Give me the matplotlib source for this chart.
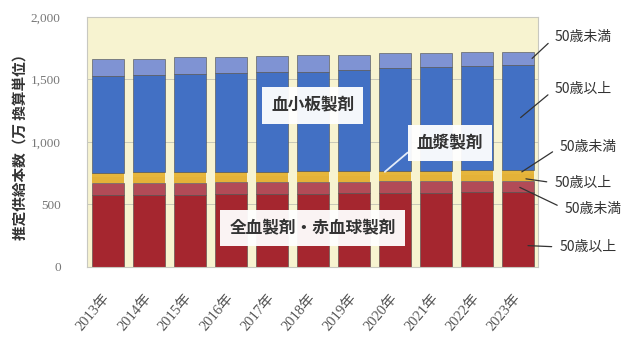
import numpy as np
import matplotlib.pyplot as plt

plt.rcParams['font.family'] = ['Noto Sans CJK JP', 'DejaVu Sans']

years = ['2013年', '2014年', '2015年', '2016年', '2017年', '2018年',
         '2019年', '2020年', '2021年', '2022年', '2023年']

# 推定供給本数（万 換算単位）, stacked from the bottom
rbc_over50 = [573, 575, 577, 579, 582, 585, 588, 590, 593, 596, 599]
rbc_under50 = [98, 97, 96, 95, 94, 93, 92, 92, 91, 90, 89]
plasma_over50 = [47, 48, 48, 49, 49, 49, 49, 49, 49, 49, 50]
plasma_under50 = [34, 34, 35, 35, 35, 35, 35, 35, 35, 35, 35]
plt_over50 = [774, 780, 789, 795, 796, 800, 811, 822, 828, 839, 842]
plt_under50 = [137, 131, 131, 123, 131, 130, 120, 120, 112, 107, 106]

segments = [rbc_over50, rbc_under50, plasma_over50, plasma_under50,
            plt_over50, plt_under50]
colors = ['#a5262f', '#b24b57', '#e4b238', '#e6b63c', '#4270c4', '#7f93d3']
edge_w = [0.4, 0.4, 0.0, 0.0, 0.4, 0.4]

fig = plt.figure(figsize=(6.31, 3.4), dpi=100)
ax = fig.add_axes([0.138, 0.216, 0.715, 0.734])
ax.set_facecolor('#f7f3d0')

x = np.arange(len(years))
bottom = np.zeros(len(years))
bottoms = []
for vals, c, lw in zip(segments, colors, edge_w):
    bottoms.append(bottom.copy())
    ax.bar(x, vals, width=0.78, bottom=bottom, color=c,
           edgecolor='#4a4a4a', linewidth=lw, zorder=2)
    bottom += np.array(vals)

ax.set_xlim(-0.5, 10.5)
ax.set_ylim(0, 2000)
ax.set_yticks([0, 500, 1000, 1500, 2000])
ax.set_yticklabels(['0', '500', '1,000', '1,500', '2,000'],
                   fontfamily='Liberation Serif', fontsize=9.5, color='#777777')
ax.tick_params(axis='y', length=0, pad=19)
ax.set_xticks(x)
ax.set_xticklabels(years, rotation=50, ha='right', va='center',
                   rotation_mode='anchor', fontsize=10.5, color='#555555',
                   fontfamily=['Liberation Serif', 'Noto Sans CJK JP'])
ax.tick_params(axis='x', length=0, pad=21)
ax.grid(axis='y', color='#c8c8b8', linewidth=0.7, zorder=0)
for sp in ax.spines.values():
    sp.set_color('#c8c8c0')
    sp.set_linewidth(0.8)

# product labels in the middle of the chart
box = dict(boxstyle='square,pad=0.55', fc='white', ec='none', alpha=0.95)
ax.text(5.0, 1290, '血小板製剤', ha='center', va='center', fontsize=12,
        fontweight='bold', color='#333333', bbox=box, zorder=5)
ax.text(5.0, 308, '全血製剤・赤血球製剤', ha='center', va='center', fontsize=12,
        fontweight='bold', color='#333333', bbox=box, zorder=5)
ax.annotate('血漿製剤', xy=(6.76, bottoms[3][6] + 30), xytext=(8.35, 990),
            ha='center', va='center', fontsize=12, fontweight='bold',
            color='#333333', bbox=box, zorder=5,
            arrowprops=dict(arrowstyle='-', color='#e4ecf8', lw=1.3,
                            relpos=(0.0, 0.4), shrinkA=0, shrinkB=0))

# age-group labels on the right, pointing at the last bar
last = len(years) - 1
right_labels = [
    (5, 0.5, 10.35, (555, 37), '50歳未満'),
    (4, 0.5, 10.07, (555, 89), '50歳以上'),
    (3, 0.6, 10.1, (560, 147), '50歳未満'),
    (2, 0.3, 10.2, (555, 183), '50歳以上'),
    (1, 0.4, 10.05, (565, 209), '50歳未満'),
    (0, 0.28, 10.25, (560, 247), '50歳以上'),
]
for seg, frac, bx, (tx, ty), label in right_labels:
    yv = bottoms[seg][last] + frac * segments[seg][last]
    ax.annotate(label, xy=(bx, yv), xytext=(tx, 340 - ty),
                textcoords='figure pixels', ha='left', va='center',
                fontsize=10, color='#333333', annotation_clip=False,
                arrowprops=dict(arrowstyle='-', color='#333333', lw=0.9,
                                relpos=(0.0, 0.5), shrinkA=4, shrinkB=0))

fig.text(21 / 631, 1 - 143 / 340, '推定供給本数（万 換算単位）', rotation=90,
         ha='center', va='center', fontsize=10.5, fontweight='bold',
         color='#333333')

fig.savefig('out.png', dpi=100, facecolor='white')
